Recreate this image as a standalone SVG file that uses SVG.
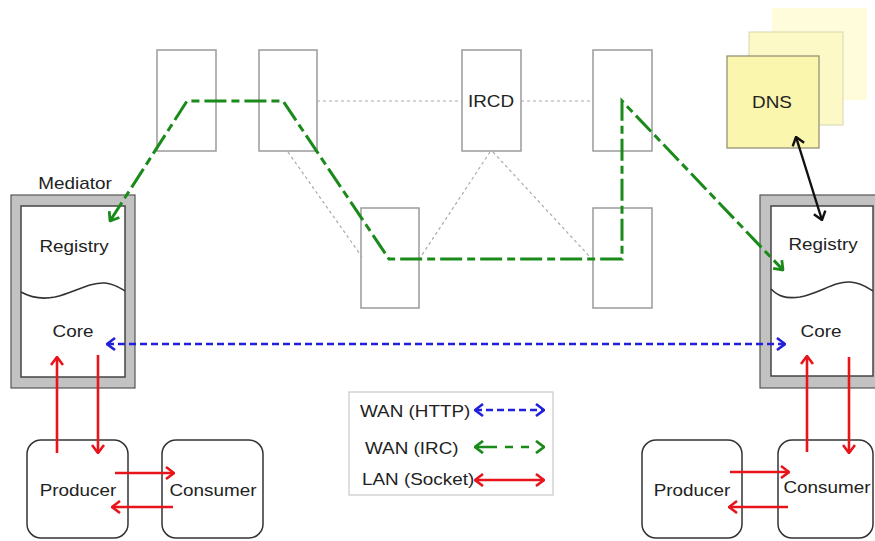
<svg xmlns="http://www.w3.org/2000/svg" width="875" height="541" viewBox="0 0 875 541">
<style>
text{font-family:"Liberation Sans",Arial,sans-serif;font-size:16px;fill:#222}
.c{text-anchor:middle}
.router{fill:#fff;stroke:#9a9a9a;stroke-width:1.5}
.outer{fill:#c2c2c2;stroke:#555;stroke-width:1.2}
.inner{fill:#fff;stroke:#444;stroke-width:1.5}
.wave{fill:none;stroke:#333;stroke-width:1.6}
.pc{fill:#fff;stroke:#333;stroke-width:1.5}
.dot{fill:none;stroke:#aaa;stroke-width:1.2;stroke-dasharray:3 3}
.red{fill:none;stroke:#e8141c;stroke-width:2.6}
.blue{fill:none;stroke:#2020dd;stroke-width:2.6;stroke-dasharray:7 4}
.green{fill:none;stroke:#1a8a1a;stroke-width:3;stroke-dasharray:22 5 8 5}
.black{fill:none;stroke:#111;stroke-width:2.4}
</style>
<defs>
<marker id="ar" viewBox="0 0 14 14" refX="13" refY="7" markerWidth="14" markerHeight="14" markerUnits="userSpaceOnUse" orient="auto-start-reverse"><path d="M5,1 L13,7 L5,13" fill="none" stroke="#e8141c" stroke-width="2.6"/></marker>
<marker id="ab" viewBox="0 0 14 14" refX="13" refY="7" markerWidth="14" markerHeight="14" markerUnits="userSpaceOnUse" orient="auto-start-reverse"><path d="M5,1 L13,7 L5,13" fill="none" stroke="#2020dd" stroke-width="2.6"/></marker>
<marker id="ag" viewBox="0 0 14 14" refX="13" refY="7" markerWidth="14" markerHeight="14" markerUnits="userSpaceOnUse" orient="auto-start-reverse"><path d="M5,1 L13,7 L5,13" fill="none" stroke="#1a8a1a" stroke-width="2.8"/></marker>
<marker id="ak" viewBox="0 0 14 14" refX="13" refY="7" markerWidth="14" markerHeight="14" markerUnits="userSpaceOnUse" orient="auto-start-reverse"><path d="M5,1 L13,7 L5,13" fill="none" stroke="#111" stroke-width="2.4"/></marker>
</defs>
<rect width="875" height="541" fill="#fff"/>

<g id="dns">
<rect x="772" y="8" width="95" height="92" fill="#fefcda"/>
<rect x="749" y="32" width="94" height="93" fill="#fcf9c6" stroke="#d8d6b0" stroke-width="1"/>
<rect x="727" y="56" width="92" height="92" fill="#faf6ae" stroke="#8c8a70" stroke-width="1.2"/>
<text transform="translate(772 108) scale(1.18 1)" class="c">DNS</text>
</g>

<g id="routers">
<rect id="r1" class="router" x="157" y="50" width="59" height="101"/>
<rect id="r2" class="router" x="259" y="50" width="58" height="101"/>
<g id="ircd"><rect class="router" x="462" y="50" width="59" height="101"/><text transform="translate(491 107) scale(1.18 1)" class="c">IRCD</text></g>
<rect id="r4" class="router" x="593" y="50" width="59" height="101"/>
<rect id="r5" class="router" x="361" y="208" width="58" height="100"/>
<rect id="r6" class="router" x="593" y="208" width="59" height="100"/>
</g>

<g id="mediator-left">
<text transform="translate(75 189) scale(1.18 1)" class="c">Mediator</text>
<rect class="outer" x="11" y="195" width="124" height="193"/>
<rect class="inner" x="21" y="206" width="104" height="171"/>
<path class="wave" d="M21,292 C30,297 40,300 55,297 C75,292 90,282 105,283 C115,284 120,288 125,291"/>
<text transform="translate(74 252) scale(1.18 1)" class="c">Registry</text>
<text transform="translate(73 337) scale(1.18 1)" class="c">Core</text>
</g>

<g id="mediator-right">
<rect class="outer" x="760" y="195" width="120" height="193"/>
<rect class="inner" x="771" y="206" width="102" height="170"/>
<path class="wave" d="M771,289 C778,296 785,299 800,297 C820,293 835,281 850,282 C862,283 868,288 873,291"/>
<text transform="translate(823 250) scale(1.18 1)" class="c">Registry</text>
<text transform="translate(821 337) scale(1.18 1)" class="c">Core</text>
</g>

<g id="producer-left"><rect class="pc" x="27" y="440" width="101" height="98" rx="14"/><text transform="translate(78 496) scale(1.18 1)" class="c">Producer</text></g>
<g id="consumer-left"><rect class="pc" x="162" y="440" width="101" height="98" rx="14"/><text transform="translate(213 496) scale(1.18 1)" class="c">Consumer</text></g>
<g id="producer-right"><rect class="pc" x="642" y="440" width="100" height="98" rx="14"/><text transform="translate(692 496) scale(1.18 1)" class="c">Producer</text></g>
<g id="consumer-right"><rect class="pc" x="778" y="440" width="95" height="98" rx="14"/><text transform="translate(827 493) scale(1.18 1)" class="c">Consumer</text></g>

<g id="legend">
<rect x="349" y="392" width="204" height="103" fill="#fff" stroke="#c8c8c8" stroke-width="1.2"/>
<text transform="translate(360 417) scale(1.18 1)">WAN (HTTP)</text>
<text transform="translate(365 454) scale(1.18 1)">WAN (IRC)</text>
<text transform="translate(362 485) scale(1.18 1)">LAN (Socket)</text>
<path class="blue" d="M475,410 H544" marker-start="url(#ab)" marker-end="url(#ab)"/>
<path class="green" style="stroke-dasharray:22 8 8 8 8 15;stroke-width:2.6" d="M475,447 H544" marker-start="url(#ag)" marker-end="url(#ag)"/>
<path class="red" d="M475,480 H544" marker-start="url(#ar)" marker-end="url(#ar)"/>
</g>

<g id="connectors">
<path class="dot" d="M317,101 H462 M521,101 H593 M288,152 L362,257 M490,152 L420,258 M493,152 L590,257"/>
<path class="green" d="M110,221 L187,101 L283,101 L389,259 L622,259 L622,101 L783,270" marker-start="url(#ag)" marker-end="url(#ag)"/>
<path class="blue" d="M107,344 H785" marker-start="url(#ab)" marker-end="url(#ab)"/>
<path class="black" d="M796,137 L822,220" marker-start="url(#ak)" marker-end="url(#ak)"/>
<path class="red" d="M57,453 V357" marker-end="url(#ar)"/>
<path class="red" d="M98,355 V453" marker-end="url(#ar)"/>
<path class="red" d="M115,473 H174" marker-end="url(#ar)"/>
<path class="red" d="M173,507 H112" marker-end="url(#ar)"/>
<path class="red" d="M807,452 V356" marker-end="url(#ar)"/>
<path class="red" d="M849,357 V453" marker-end="url(#ar)"/>
<path class="red" d="M730,472 H789" marker-end="url(#ar)"/>
<path class="red" d="M788,507 H729" marker-end="url(#ar)"/>
</g>
</svg>
